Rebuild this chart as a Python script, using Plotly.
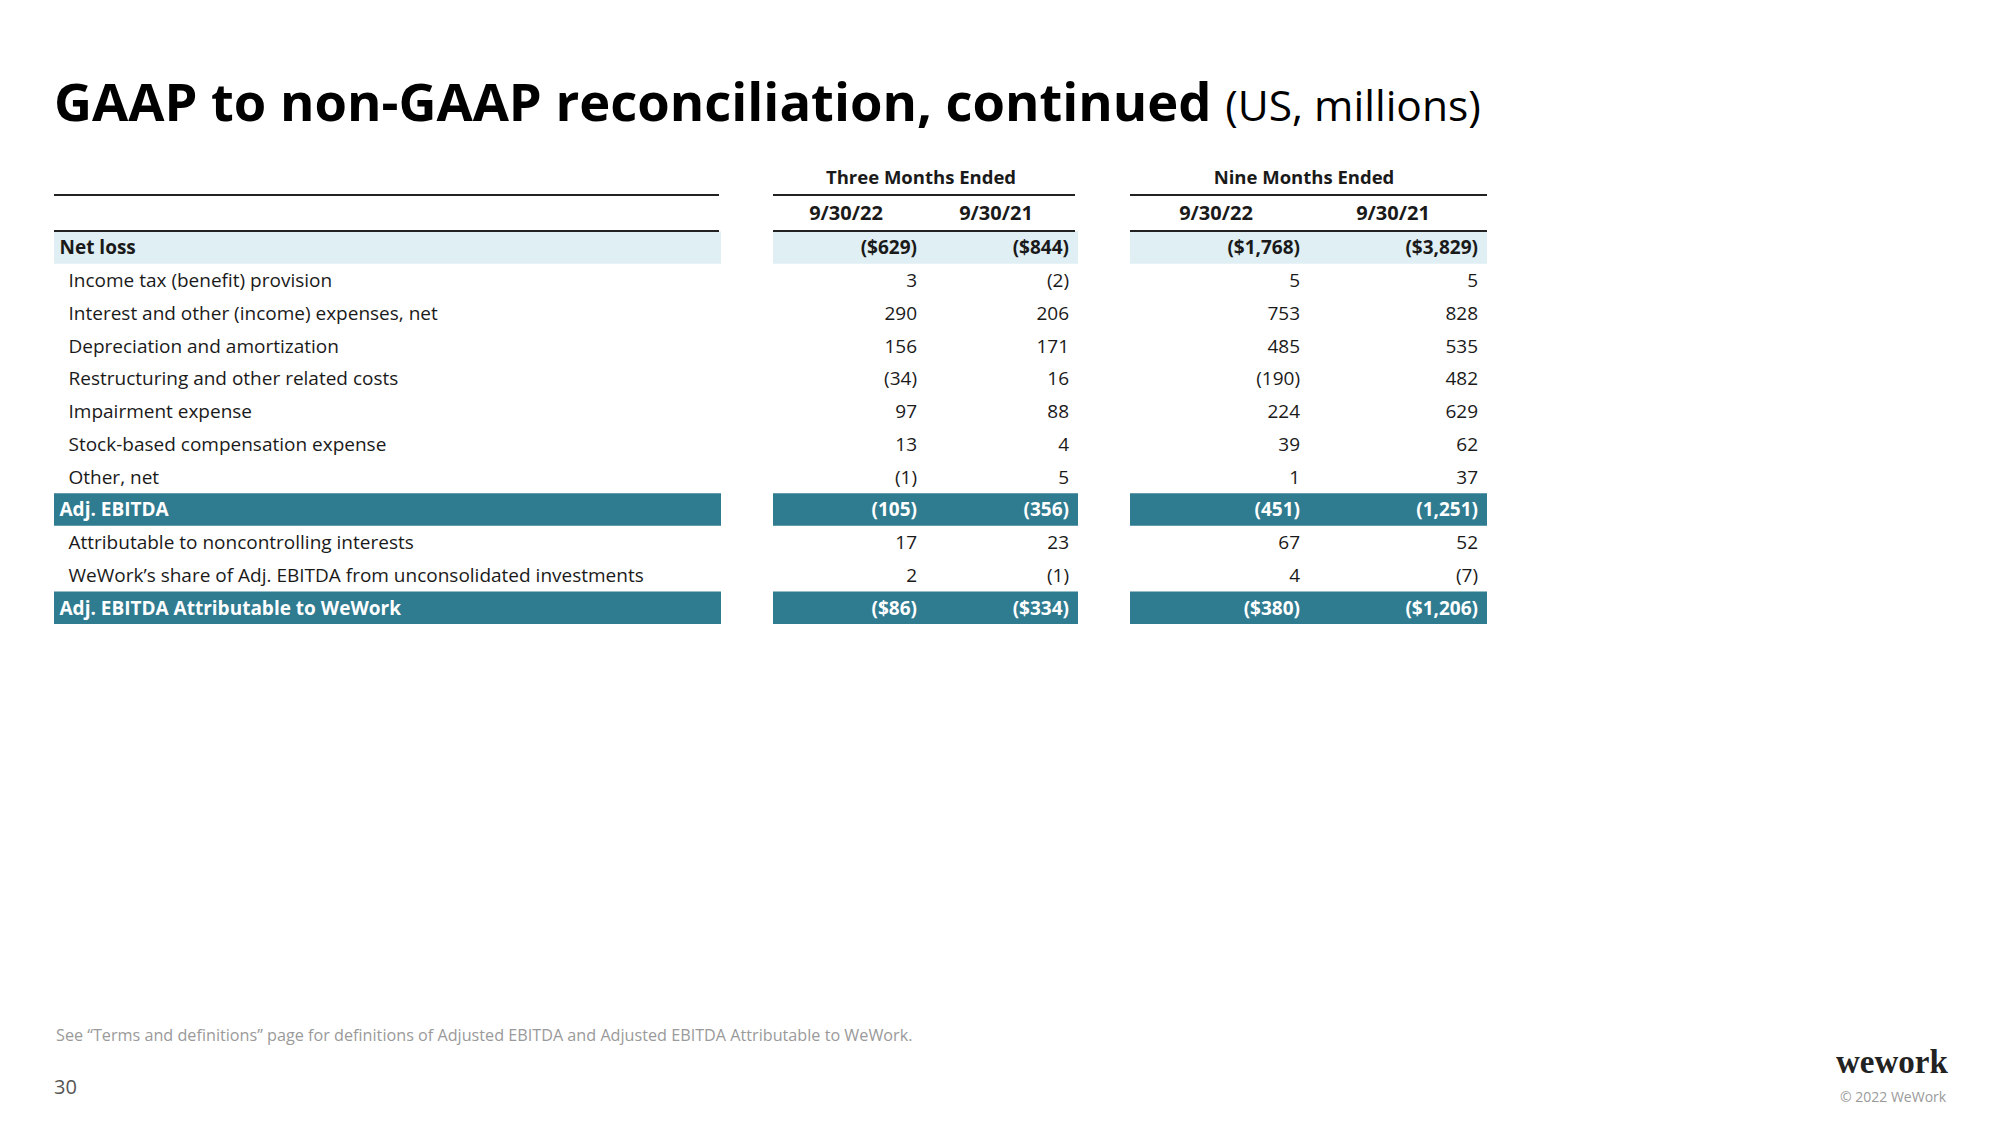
import plotly.graph_objects as go

# ---------------- data ----------------
row_labels = [
    "Net loss",
    "Income tax (benefit) provision",
    "Interest and other (income) expenses, net",
    "Depreciation and amortization",
    "Restructuring and other related costs",
    "Impairment expense",
    "Stock-based compensation expense",
    "Other, net",
    "Adj. EBITDA",
    "Attributable to noncontrolling interests",
    "WeWork\u2019s share of Adj. EBITDA from unconsolidated investments",
    "Adj. EBITDA Attributable to WeWork",
]
row_kind = ["light", "", "", "", "", "", "", "", "dark", "", "", "dark"]

three_m_2022 = ["($629)", "3", "290", "156", "(34)", "97", "13", "(1)", "(105)", "17", "2", "($86)"]
three_m_2021 = ["($844)", "(2)", "206", "171", "16", "88", "4", "5", "(356)", "23", "(1)", "($334)"]
nine_m_2022 = ["($1,768)", "5", "753", "485", "(190)", "224", "39", "1", "(451)", "67", "4", "($380)"]
nine_m_2021 = ["($3,829)", "5", "828", "535", "482", "629", "62", "37", "(1,251)", "52", "(7)", "($1,206)"]

group_headers = ["Three Months Ended", "Nine Months Ended"]
date_headers = ["9/30/22", "9/30/21", "9/30/22", "9/30/21"]

title_main = "GAAP to non-GAAP reconciliation, continued"
title_unit = "(US, millions)"
footnote = "See \u201cTerms and definitions\u201d page for definitions of Adjusted EBITDA and Adjusted EBITDA Attributable to WeWork."
page_no = "30"

# ---------------- layout constants ----------------
FONT = "Open Sans"
W, H = 2000, 1125
ROW0, DY = 247.5, 32.75
BAND_H = 32.5
TEXT_DY = 2.0
LIGHT = "#dfeff3"
DARK = "#2f7b90"
INK = "#1a1a1a"
BODY = 19

row_y = [ROW0 + i * DY for i in range(len(row_labels))]
text_y = [y + TEXT_DY for y in row_y]

blocks = [(54, 721), (773, 1078), (1130, 1487)]
value_cols = [(917, three_m_2022), (1069, three_m_2021), (1300, nine_m_2022), (1478, nine_m_2021)]

fig = go.Figure()

# bands (horizontal bars)
for kind, color in (("light", LIGHT), ("dark", DARK)):
    ys = [y for y, k in zip(row_y, row_kind) if k == kind]
    for x0, x1 in blocks:
        fig.add_trace(go.Bar(
            orientation="h", y=ys, x=[x1 - x0] * len(ys), base=[x0] * len(ys),
            width=BAND_H, marker=dict(color=color, line=dict(width=0)),
            hoverinfo="skip", showlegend=False))

def cell_text(t, k):
    return f"<b>{t}</b>" if k else t

def cell_color(k):
    return "white" if k == "dark" else INK

# row labels
lab_x = [59.5 if k else 68.5 for k in row_kind]
fig.add_trace(go.Scatter(
    mode="text", x=lab_x, y=text_y,
    text=[cell_text(t, k) for t, k in zip(row_labels, row_kind)],
    textposition="middle right",
    textfont=dict(family=FONT, size=BODY, color=[cell_color(k) for k in row_kind]),
    hoverinfo="skip", showlegend=False))

# values
for xr, vals in value_cols:
    fig.add_trace(go.Scatter(
        mode="text", x=[xr] * len(vals), y=text_y,
        text=[cell_text(t, k) for t, k in zip(vals, row_kind)],
        textposition="middle left",
        textfont=dict(family=FONT, size=BODY, color=[cell_color(k) for k in row_kind]),
        hoverinfo="skip", showlegend=False))

# headers
fig.add_trace(go.Scatter(
    mode="text", x=[921, 1304], y=[179.5, 179.5],
    text=[f"<b>{t}</b>" for t in group_headers], textposition="middle center",
    textfont=dict(family=FONT, size=18.5, color=INK), hoverinfo="skip", showlegend=False))
fig.add_trace(go.Scatter(
    mode="text", x=[846, 996, 1216, 1393], y=[214.5] * 4,
    text=[f"<b>{t}</b>" for t in date_headers], textposition="middle center",
    textfont=dict(family=FONT, size=20, color=INK), hoverinfo="skip", showlegend=False))

# rules
for (x0, x1), yy in [((54, 719), 195), ((773, 1075), 195), ((1130, 1487), 195),
                     ((54, 719), 231), ((773, 1075), 231), ((1130, 1487), 231)]:
    fig.add_shape(type="line", xref="x", yref="y", x0=x0, x1=x1, y0=yy, y1=yy,
                  line=dict(color="#222222", width=2))

# title
fig.add_annotation(
    xref="paper", yref="paper", x=52 / W, y=1 - 100 / H, xanchor="left", yanchor="middle",
    showarrow=False,
    text=f"<b>{title_main}</b> <span style='font-size:42.5px'>{title_unit}</span>",
    font=dict(family=FONT, size=52.5, color="#000000"))

# footnote, page number, logo
fig.add_annotation(xref="paper", yref="paper", x=54 / W, y=1 - 1035 / H, xanchor="left",
                   yanchor="middle", showarrow=False, text=footnote,
                   font=dict(family=FONT, size=16.2, color="#9a9a9a"))
fig.add_annotation(xref="paper", yref="paper", x=52 / W, y=1 - 1086 / H, xanchor="left",
                   yanchor="middle", showarrow=False, text=page_no,
                   font=dict(family=FONT, size=20, color="#555555"))
fig.add_annotation(xref="paper", yref="paper", x=1950 / W, y=1 - 1062 / H, xanchor="right",
                   yanchor="middle", showarrow=False, text="<b>wework</b>",
                   font=dict(family="Liberation Serif", size=33, color="#222222"))
fig.add_annotation(xref="paper", yref="paper", x=1949 / W, y=1 - 1096 / H, xanchor="right",
                   yanchor="middle", showarrow=False, text="\u00a9 2022 WeWork",
                   font=dict(family=FONT, size=14, color="#9a9a9a"))

fig.update_layout(
    width=W, height=H, margin=dict(l=0, r=0, t=0, b=0),
    paper_bgcolor="white", plot_bgcolor="white", barmode="overlay",
    xaxis=dict(range=[0, W], visible=False, fixedrange=True),
    yaxis=dict(range=[H, 0], visible=False, fixedrange=True),
    showlegend=False,
)

fig.write_html("out.html", config={"displayModeBar": False},
               post_script="document.body.style.margin='0px';")
